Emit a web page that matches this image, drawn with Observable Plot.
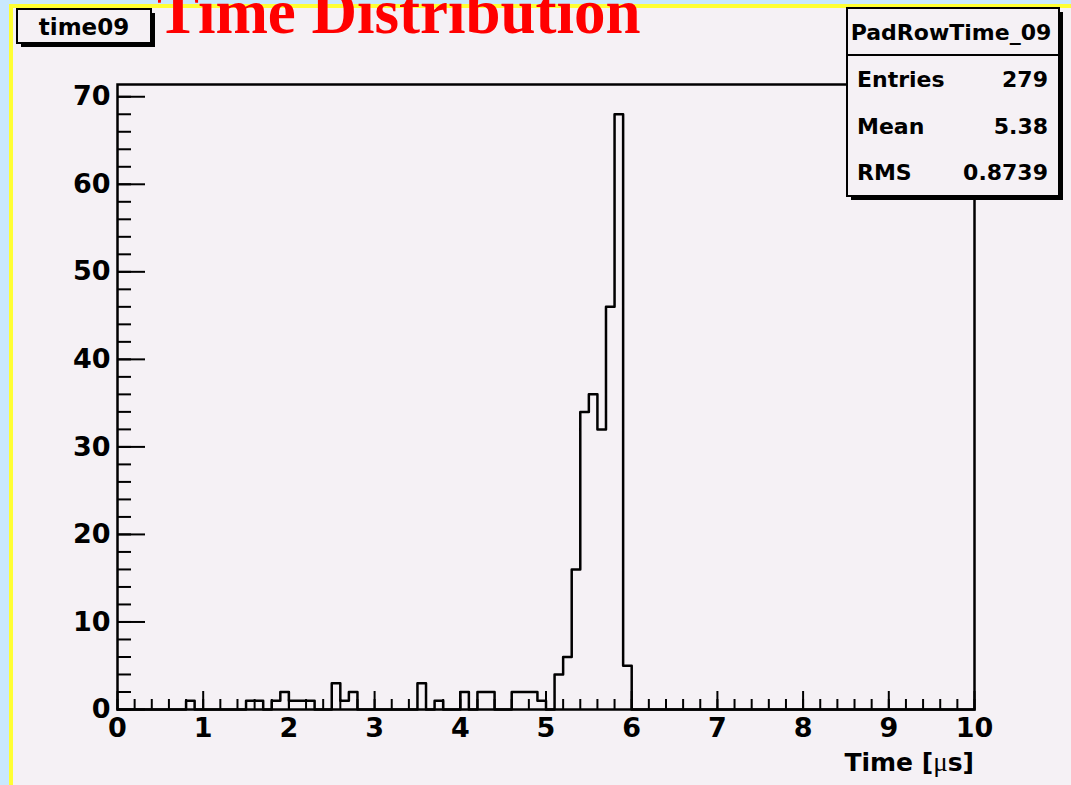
<!DOCTYPE html>
<html>
<head>
<meta charset="utf-8">
<script src="https://cdn.jsdelivr.net/npm/d3@7"></script>
<script src="https://cdn.jsdelivr.net/npm/@observablehq/plot@0.6"></script>
<style>
  html, body { margin: 0; padding: 0; }
  body { width: 1071px; height: 785px; overflow: hidden; background: #c9e8fd; position: relative; }
  #border { position: absolute; left: 9px; top: 4px; right: 0; bottom: 0; background: #ffff33; }
  #canvas { position: absolute; left: 13px; top: 8px; right: 0; bottom: 0; background: #f5f1f5; }
  #chart { position: absolute; left: 0; top: 0; }
  #chart svg { display: block; }
</style>
</head>
<body>
<div id="border"></div>
<div id="canvas"></div>
<div id="chart"></div>
<script>
// ---- Data (100 bins of 0.1 µs from 0 to 10) ----
const binWidth = 0.1;
const counts = [
  0, 0, 0, 0, 0, 0, 0, 0, 1, 0,     // 0.0 - 1.0
  0, 0, 0, 0, 0, 1, 1, 0, 1, 2,     // 1.0 - 2.0
  1, 1, 1, 0, 0, 3, 1, 2, 0, 0,     // 2.0 - 3.0
  0, 0, 0, 0, 0, 3, 0, 1, 0, 0,     // 3.0 - 4.0
  2, 0, 2, 2, 0, 0, 2, 2, 2, 1,     // 4.0 - 5.0
  0, 4, 6, 16, 34, 36, 32, 46, 68, 5, // 5.0 - 6.0
  0, 0, 0, 0, 0, 0, 0, 0, 0, 0,     // 6.0 - 7.0
  0, 0, 0, 0, 0, 0, 0, 0, 0, 0,     // 7.0 - 8.0
  0, 0, 0, 0, 0, 0, 0, 0, 0, 0,     // 8.0 - 9.0
  0, 0, 0, 0, 0, 0, 0, 0, 0, 0      // 9.0 - 10.0
];
const xDomain = [0, 10];
const yMax = 71.4;                     // ROOT: 1.05 * maximum (68)
const xMajorTicks = [0, 1, 2, 3, 4, 5, 6, 7, 8, 9, 10];
const yMajorTicks = [0, 10, 20, 30, 40, 50, 60, 70];
const xMinorTicks = d3.range(0, 10.001, 0.2);
const yMinorTicks = d3.range(0, 70.001, 2);
const titleText = "Time Distribution";
const histName = "time09";
const statsTitle = "PadRowTime_09";
const statsLabels = ["Entries", "Mean", "RMS"];
const statsValues = ["279", "5.38", "0.8739"];

// histogram outline points (left edge of each bin + final right edge)
const points = counts.map((c, i) => ({x: i * binWidth, y: c}));
points.push({x: counts.length * binWidth, y: counts[counts.length - 1]});

const font = "DejaVu Sans";
const labelStyle = {fontSize: 27, fontWeight: "bold", fontFamily: font, fill: "black"};

const svg = Plot.plot({
  width: 1071,
  height: 785,
  marginLeft: 117,
  marginRight: 97,
  marginTop: 84,
  marginBottom: 76,
  style: {background: "transparent", overflow: "visible"},
  x: {domain: xDomain, label: null},
  y: {domain: [0, yMax], label: null},
  marks: [
    Plot.line(points, {x: "x", y: "y", curve: "step-after", stroke: "black", strokeWidth: 2.5}),
    // inward ticks (ROOT style)
    Plot.axisY(yMinorTicks, {tickSize: 14, dx: 14, tickFormat: () => "", label: null, strokeWidth: 2}),
    Plot.axisY(yMajorTicks, {tickSize: 28, dx: 28, tickFormat: () => "", label: null, strokeWidth: 2}),
    Plot.axisX(xMinorTicks, {tickSize: 10, dy: -10, tickFormat: () => "", label: null, strokeWidth: 2}),
    Plot.axisX(xMajorTicks, {tickSize: 18, dy: -18, tickFormat: () => "", label: null, strokeWidth: 2}),
    // tick labels
    Plot.axisY(yMajorTicks, {tickSize: 0, tickPadding: 7, label: null, ...labelStyle}),
    Plot.axisX(xMajorTicks, {tickSize: 0, tickPadding: 8, label: null, ...labelStyle}),
    Plot.frame({stroke: "black", strokeWidth: 2.5})
  ]
});
document.getElementById("chart").appendChild(svg);

const s = d3.select(svg);

// axis title
const at = s.append("text")
  .attr("x", 974).attr("y", 771)
  .attr("text-anchor", "end")
  .attr("font-family", font).attr("font-weight", "bold").attr("font-size", 25)
  .attr("fill", "black");
at.append("tspan").text("Time [");
at.append("tspan").attr("font-family", "Liberation Serif").attr("font-weight", "normal").attr("font-size", 27).text("\u03bc");
at.append("tspan").text("s]");

// histogram name box
s.append("rect").attr("x", 21).attr("y", 13).attr("width", 134).attr("height", 34).attr("fill", "black");
s.append("rect").attr("x", 17).attr("y", 9).attr("width", 134).attr("height", 34)
  .attr("fill", "#f5f1f5").attr("stroke", "black").attr("stroke-width", 2);
s.append("text").attr("x", 84).attr("y", 27).attr("dy", "0.36em")
  .attr("text-anchor", "middle")
  .attr("font-family", font).attr("font-weight", "bold").attr("font-size", 23)
  .text(histName);

// title
s.append("text").attr("x", 157).attr("y", 33)
  .attr("text-anchor", "start")
  .attr("font-family", "Liberation Serif").attr("font-weight", "bold").attr("font-size", 63)
  .attr("fill", "#ff0000")
  .text(titleText);

// statistics box
s.append("rect").attr("x", 851).attr("y", 12).attr("width", 212).attr("height", 188).attr("fill", "black");
s.append("rect").attr("x", 847).attr("y", 8).attr("width", 212).attr("height", 188)
  .attr("fill", "#f5f1f5").attr("stroke", "black").attr("stroke-width", 2);
s.append("line").attr("x1", 847).attr("x2", 1059).attr("y1", 55).attr("y2", 55)
  .attr("stroke", "black").attr("stroke-width", 2);
s.append("text").attr("x", 951).attr("y", 32).attr("dy", "0.36em")
  .attr("text-anchor", "middle")
  .attr("font-family", font).attr("font-weight", "bold").attr("font-size", 22)
  .text(statsTitle);
const rowY = [79, 126, 172];
statsLabels.forEach((lab, i) => {
  s.append("text").attr("x", 857).attr("y", rowY[i]).attr("dy", "0.36em")
    .attr("text-anchor", "start")
    .attr("font-family", font).attr("font-weight", "bold").attr("font-size", 22)
    .text(lab);
  s.append("text").attr("x", 1048).attr("y", rowY[i]).attr("dy", "0.36em")
    .attr("text-anchor", "end")
    .attr("font-family", font).attr("font-weight", "bold").attr("font-size", 22)
    .text(statsValues[i]);
});
</script>
</body>
</html>
